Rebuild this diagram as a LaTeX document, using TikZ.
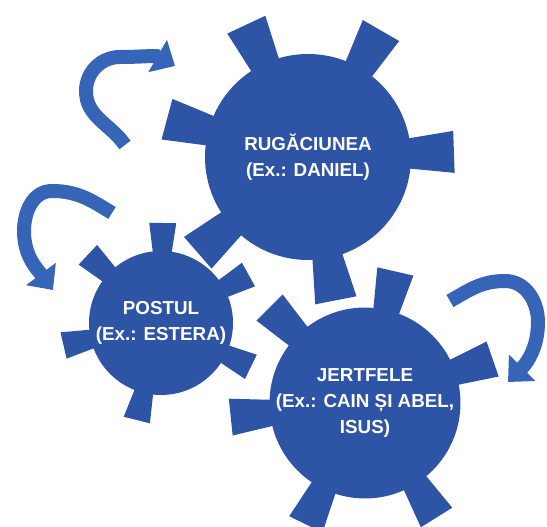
\documentclass[tikz,border=0pt]{standalone}
\usepackage{fontspec}
\setmainfont{Liberation Sans}
\usetikzlibrary{arrows.meta}
\definecolor{gearblue}{RGB}{46,84,166}
\definecolor{arrowblue}{RGB}{54,100,182}

\begin{document}
\begin{tikzpicture}[x=1pt, y=1pt,
    wheel/.style={circle, fill=gearblue, inner sep=0pt, text=white, align=center,
      font=\fontsize{18.8}{26}\selectfont\bfseries},
    tooth/.style={fill=gearblue, draw=none},
    turn/.style={draw=arrowblue, line width=14pt, -{Triangle[width=36pt,length=20pt]}}]
  \useasboundingbox (0,0) rectangle (547,527);

  % teeth first, the wheels go on top of them
  \begin{scope}[shift={(308,370)}]
    \foreach \a in {2,60,115,165,221,281}
      \fill[tooth, rotate=\a] (85,-13) -- (146,-21) -- (146,21) -- (85,13) -- cycle;
  \end{scope}
  \begin{scope}[shift={(161,204)}]
    \foreach \a in {29,89,137,193,256,334}
      \fill[tooth, rotate=\a] (60,-8) -- (100,-13.5) -- (100,13.5) -- (60,8) -- cycle;
  \end{scope}
  \begin{scope}[shift={(365,124)}]
    \foreach \a in {19,77,135,186,244,302}
      \fill[tooth, rotate=\a] (78,-11) -- (135,-18.5) -- (135,18.5) -- (78,11) -- cycle;
  \end{scope}

  \node[wheel, minimum size=206pt] (rugaciune) at (308,370) {RUGĂCIUNEA\\(Ex.: DANIEL)};
  \node[wheel, minimum size=144pt] (postul) at (161,204) {POSTUL\\(Ex.: ESTERA)};
  \node[wheel, minimum size=186pt] (jertfe) at (365,124) {JERTFELE\\(Ex.: CAIN ȘI ABEL,\\ISUS)};

  % curved arrows round the wheels
  \coordinate (tail1) at (125,382);
  \coordinate (head1) at (175,461);
  \coordinate (tail2) at (112,314);
  \coordinate (head2) at (53,237);
  \coordinate (tail3) at (450,226);
  \coordinate (head3) at (508,145);
  \draw[turn] (tail1) to[out=125,in=-90] (86,436) to[out=90,in=180] (120,470) to[out=0,in=150] (head1);
  \draw[turn] (tail2) to[out=148,in=0] (52,336) to[out=180,in=90] (24,296) to[out=-90,in=127] (head2);
  \draw[turn] (tail3) to[out=30,in=180] (505,246) to[out=0,in=90] (538,205) to[out=-90,in=45] (head3);
\end{tikzpicture}
\end{document}
